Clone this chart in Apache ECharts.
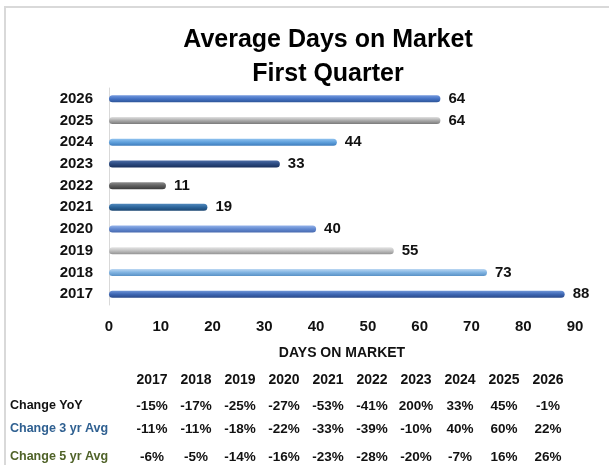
<!DOCTYPE html>
<html>
<head>
<meta charset="utf-8">
<script src="https://cdn.jsdelivr.net/npm/echarts@6/dist/echarts.min.js"></script>
<style>
  html, body { margin: 0; padding: 0; background: #fff; }
  #chart { width: 609px; height: 465px; }
</style>
</head>
<body>
<div id="chart"></div>
<script>
// 数据
var years = ['2017', '2018', '2019', '2020', '2021', '2022', '2023', '2024', '2025', '2026'];
var daysOnMarket = [88, 73, 55, 40, 19, 11, 33, 44, 64, 64];
var xTicks = [0, 10, 20, 30, 40, 50, 60, 70, 80, 90];

var tableRows = ['Change YoY', 'Change 3 yr Avg', 'Change 5 yr Avg'];
var changeYoY = ['-15%', '-17%', '-25%', '-27%', '-53%', '-41%', '200%', '33%', '45%', '-1%'];
var change3yr = ['-11%', '-11%', '-18%', '-22%', '-33%', '-39%', '-10%', '40%', '60%', '22%'];
var change5yr = ['-6%', '-5%', '-14%', '-16%', '-23%', '-28%', '-20%', '-7%', '16%', '26%'];

// 每根柱子的渐变色 (上, 中, 下)
var barColors = [
  ['#7096D8', '#3F68B5', '#29498A'],
  ['#BCD8F3', '#80B3E1', '#5A92C6'],
  ['#E4E4E4', '#C0C0C0', '#939393'],
  ['#93B2E9', '#6188D0', '#4769AE'],
  ['#5088BC', '#2A6399', '#1B4570'],
  ['#8E8E8E', '#5F5F5F', '#3C3C3C'],
  ['#4C6CA5', '#2B4A80', '#19305C'],
  ['#90C2EF', '#5FA0DC', '#3D7CBC'],
  ['#E0E0E0', '#AAAAAA', '#7A7A7A'],
  ['#7398DD', '#4472C4', '#2C5396']
];

var font = "'Liberation Sans', Arial, sans-serif";

function grad(c) {
  return new echarts.graphic.LinearGradient(0, 0, 0, 1, [
    { offset: 0, color: c[0] },
    { offset: 0.5, color: c[1] },
    { offset: 1, color: c[2] }
  ]);
}

var chart = echarts.init(document.getElementById('chart'));

// 外框 + 下方表格
var graphics = [{
  type: 'rect',
  shape: { x: 5, y: 7, width: 700, height: 600 },
  style: { fill: 'none', stroke: '#d9d9d9', lineWidth: 2 },
  silent: true
}];
var colX = function (i) { return 152 + i * 44; };
var rowY = [406, 429, 457];
var rowColors = ['#111', '#2F6091', '#4F6228'];
var rowData = [changeYoY, change3yr, change5yr];

years.forEach(function (y, i) {
  graphics.push({
    type: 'text', x: colX(i), y: 380,
    style: { text: y, font: 'bold 14px ' + font, fill: '#111', align: 'center', verticalAlign: 'middle' }
  });
});
tableRows.forEach(function (name, r) {
  graphics.push({
    type: 'text', x: 10, y: rowY[r],
    style: { text: name, font: 'bold 12.5px ' + font, fill: rowColors[r], align: 'left', verticalAlign: 'middle' }
  });
  rowData[r].forEach(function (v, i) {
    graphics.push({
      type: 'text', x: colX(i), y: rowY[r],
      style: { text: v, font: 'bold 13.5px ' + font, fill: '#111', align: 'center', verticalAlign: 'middle' }
    });
  });
});

var option = {
  animation: false,
  title: {
    text: 'Average Days on Market\nFirst Quarter',
    left: 323,
    textAlign: 'center',
    top: 18,
    textStyle: { fontFamily: font, fontSize: 25, fontWeight: 'bold', color: '#000', lineHeight: 34 }
  },
  grid: { left: 109, right: 34, top: 88, bottom: 160 },
  xAxis: {
    type: 'value',
    min: xTicks[0],
    max: xTicks[xTicks.length - 1],
    interval: xTicks[1] - xTicks[0],
    name: 'DAYS ON MARKET',
    nameLocation: 'middle',
    nameGap: 41,
    nameTextStyle: { fontFamily: font, fontSize: 14, fontWeight: 'bold', color: '#111' },
    axisLine: { show: false },
    axisTick: { show: false },
    splitLine: { show: false },
    axisLabel: { margin: 14, fontFamily: font, fontSize: 15, fontWeight: 'bold', color: '#111' }
  },
  yAxis: {
    type: 'category',
    data: years,
    axisLine: { show: true, lineStyle: { color: '#d9d9d9', width: 1 } },
    axisTick: { show: false },
    axisLabel: { margin: 16, fontFamily: font, fontSize: 15, fontWeight: 'bold', color: '#111' }
  },
  series: [{
    type: 'bar',
    barWidth: 7,
    data: daysOnMarket.map(function (v, i) {
      return { value: v, itemStyle: { color: grad(barColors[i]), borderRadius: 3.5 } };
    }),
    label: {
      show: true,
      position: 'right',
      distance: 8,
      fontFamily: font,
      fontSize: 15,
      fontWeight: 'bold',
      color: '#111'
    }
  }],
  graphic: graphics
};

chart.setOption(option);
</script>
</body>
</html>
